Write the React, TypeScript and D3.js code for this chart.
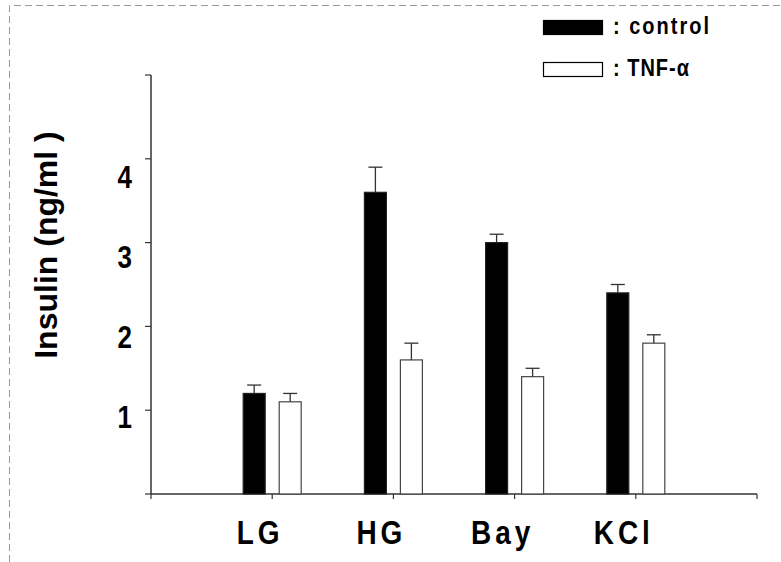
import React, { useRef, useEffect } from 'react';
import * as d3 from 'd3';

const WIDTH = 781;
const HEIGHT = 562;

const categories = ['LG', 'HG', 'Bay', 'KCl'];
const controlMeans = [1.2, 3.6, 3.0, 2.4];
const controlErr = [0.1, 0.3, 0.1, 0.1];
const tnfMeans = [1.1, 1.6, 1.4, 1.8];
const tnfErr = [0.1, 0.2, 0.1, 0.1];
const yTicks = [0, 1, 2, 3, 4, 5];
const yTickLabels = [1, 2, 3, 4];
const seriesNames = ['control', 'TNF-α'];

const FONT = 'Liberation Sans, Arial, sans-serif';
const AXIS = '#333';
// the original's lettering is a bit taller than plain Arial
const STRETCH = 1.18;

const App: React.FC = () => {
  const svgRef = useRef<SVGSVGElement>(null);

  useEffect(() => {
    if (!svgRef.current) return;
    const svg = d3.select(svgRef.current);
    svg.selectAll('*').remove();

    // dashed frame (top and left edges visible)
    svg.append('path')
      .attr('d', `M9.5,${HEIGHT} V5.5 H${WIDTH}`)
      .attr('fill', 'none')
      .attr('stroke', '#999')
      .attr('stroke-dasharray', '7,4');

    const y = d3.scaleLinear().domain([0, 5]).range([494, 75]);
    // slot positions: 0..5, categories sit on 1..4
    const x = d3.scaleLinear().domain([0, 5]).range([151, 757]);
    const inner = d3.scaleBand<string>().domain(seriesNames).range([-29, 29]).paddingInner(0.389);

    // y axis
    svg.append('line')
      .attr('x1', x(0)).attr('x2', x(0))
      .attr('y1', y(0)).attr('y2', y(5))
      .attr('stroke', AXIS).attr('stroke-width', 1.5);
    svg.selectAll('.ytick').data(yTicks).enter().append('line')
      .attr('x1', x(0) - 6).attr('x2', x(0))
      .attr('y1', (d) => y(d)).attr('y2', (d) => y(d))
      .attr('stroke', AXIS).attr('stroke-width', 1.2);

    // tick labels sit a bit lower than their ticks in the original
    const labelY = d3.scaleLinear().domain([4, 1]).range([y(4) + 29, y(1) + 18]);
    svg.selectAll('.ylab').data(yTickLabels).enter().append('text')
      .attr('transform', (d) => `translate(132, ${labelY(d)}) scale(1, ${STRETCH})`)
      .attr('text-anchor', 'end')
      .attr('font-family', FONT)
      .attr('font-weight', 'bold')
      .attr('font-size', '26px')
      .attr('fill', '#000')
      .text((d) => String(d));

    svg.append('text')
      .attr('transform', `translate(57, 245) rotate(-90)`)
      .attr('text-anchor', 'middle')
      .attr('font-family', FONT)
      .attr('font-weight', 'bold')
      .attr('font-size', '32px')
      .attr('fill', '#000')
      .text('Insulin (ng/ml )');

    // x axis
    svg.append('line')
      .attr('x1', x(0)).attr('x2', x(5))
      .attr('y1', y(0)).attr('y2', y(0))
      .attr('stroke', AXIS).attr('stroke-width', 1.5);
    svg.selectAll('.xtick').data(d3.range(6)).enter().append('line')
      .attr('x1', (d) => x(d)).attr('x2', (d) => x(d))
      .attr('y1', y(0)).attr('y2', y(0) + 5)
      .attr('stroke', AXIS).attr('stroke-width', 1.2);

    svg.selectAll('.xlab').data(categories).enter().append('text')
      .attr('transform', (_d, i) => `translate(${x(i + 1) - 12}, 544) scale(1, ${STRETCH})`)
      .attr('text-anchor', 'middle')
      .attr('font-family', FONT)
      .attr('font-weight', 'bold')
      .attr('font-size', '28px')
      .attr('letter-spacing', '4px')
      .attr('fill', '#000')
      .text((d) => d);

    const series = [
      { name: seriesNames[0], means: controlMeans, errs: controlErr, fill: '#000', stroke: '#222' },
      { name: seriesNames[1], means: tnfMeans, errs: tnfErr, fill: '#fff', stroke: '#444' },
    ];

    series.forEach((s) => {
      const bw = inner.bandwidth();
      const g = svg.append('g');
      g.selectAll('rect').data(s.means).enter().append('rect')
        .attr('x', (_d, i) => x(i + 1) + (inner(s.name) ?? 0))
        .attr('y', (d) => y(d))
        .attr('width', bw)
        .attr('height', (d) => y(0) - y(d))
        .attr('fill', s.fill)
        .attr('stroke', s.stroke)
        .attr('stroke-width', 1.2);
      // error bars (upper only)
      s.means.forEach((m, i) => {
        const cx = x(i + 1) + (inner(s.name) ?? 0) + bw / 2;
        g.append('line')
          .attr('x1', cx).attr('x2', cx)
          .attr('y1', y(m)).attr('y2', y(m + s.errs[i]))
          .attr('stroke', AXIS).attr('stroke-width', 1.3);
        g.append('line')
          .attr('x1', cx - 7).attr('x2', cx + 7)
          .attr('y1', y(m + s.errs[i])).attr('y2', y(m + s.errs[i]))
          .attr('stroke', AXIS).attr('stroke-width', 1.3);
      });
    });

    // legend
    const legend = svg.append('g').attr('transform', 'translate(543, 20)');
    series.forEach((s, i) => {
      legend.append('rect')
        .attr('x', 0.5).attr('y', i * 42 + 0.5)
        .attr('width', 59).attr('height', 14)
        .attr('fill', s.fill)
        .attr('stroke', '#000')
        .attr('stroke-width', 1.2);
      legend.append('text')
        .attr('transform', `translate(70, ${i * 42 + 14}) scale(1, ${STRETCH})`)
        .attr('font-family', FONT)
        .attr('font-weight', 'bold')
        .attr('font-size', '20px')
        .attr('letter-spacing', i === 0 ? '2px' : '1px')
        .attr('fill', '#000')
        .text(`: ${s.name}`);
    });
  }, []);

  return (
    <div style={{ position: 'absolute', left: 0, top: 0 }}>
      <svg ref={svgRef} width={WIDTH} height={HEIGHT} style={{ display: 'block', background: '#fff' }} />
    </div>
  );
};

export default App;
